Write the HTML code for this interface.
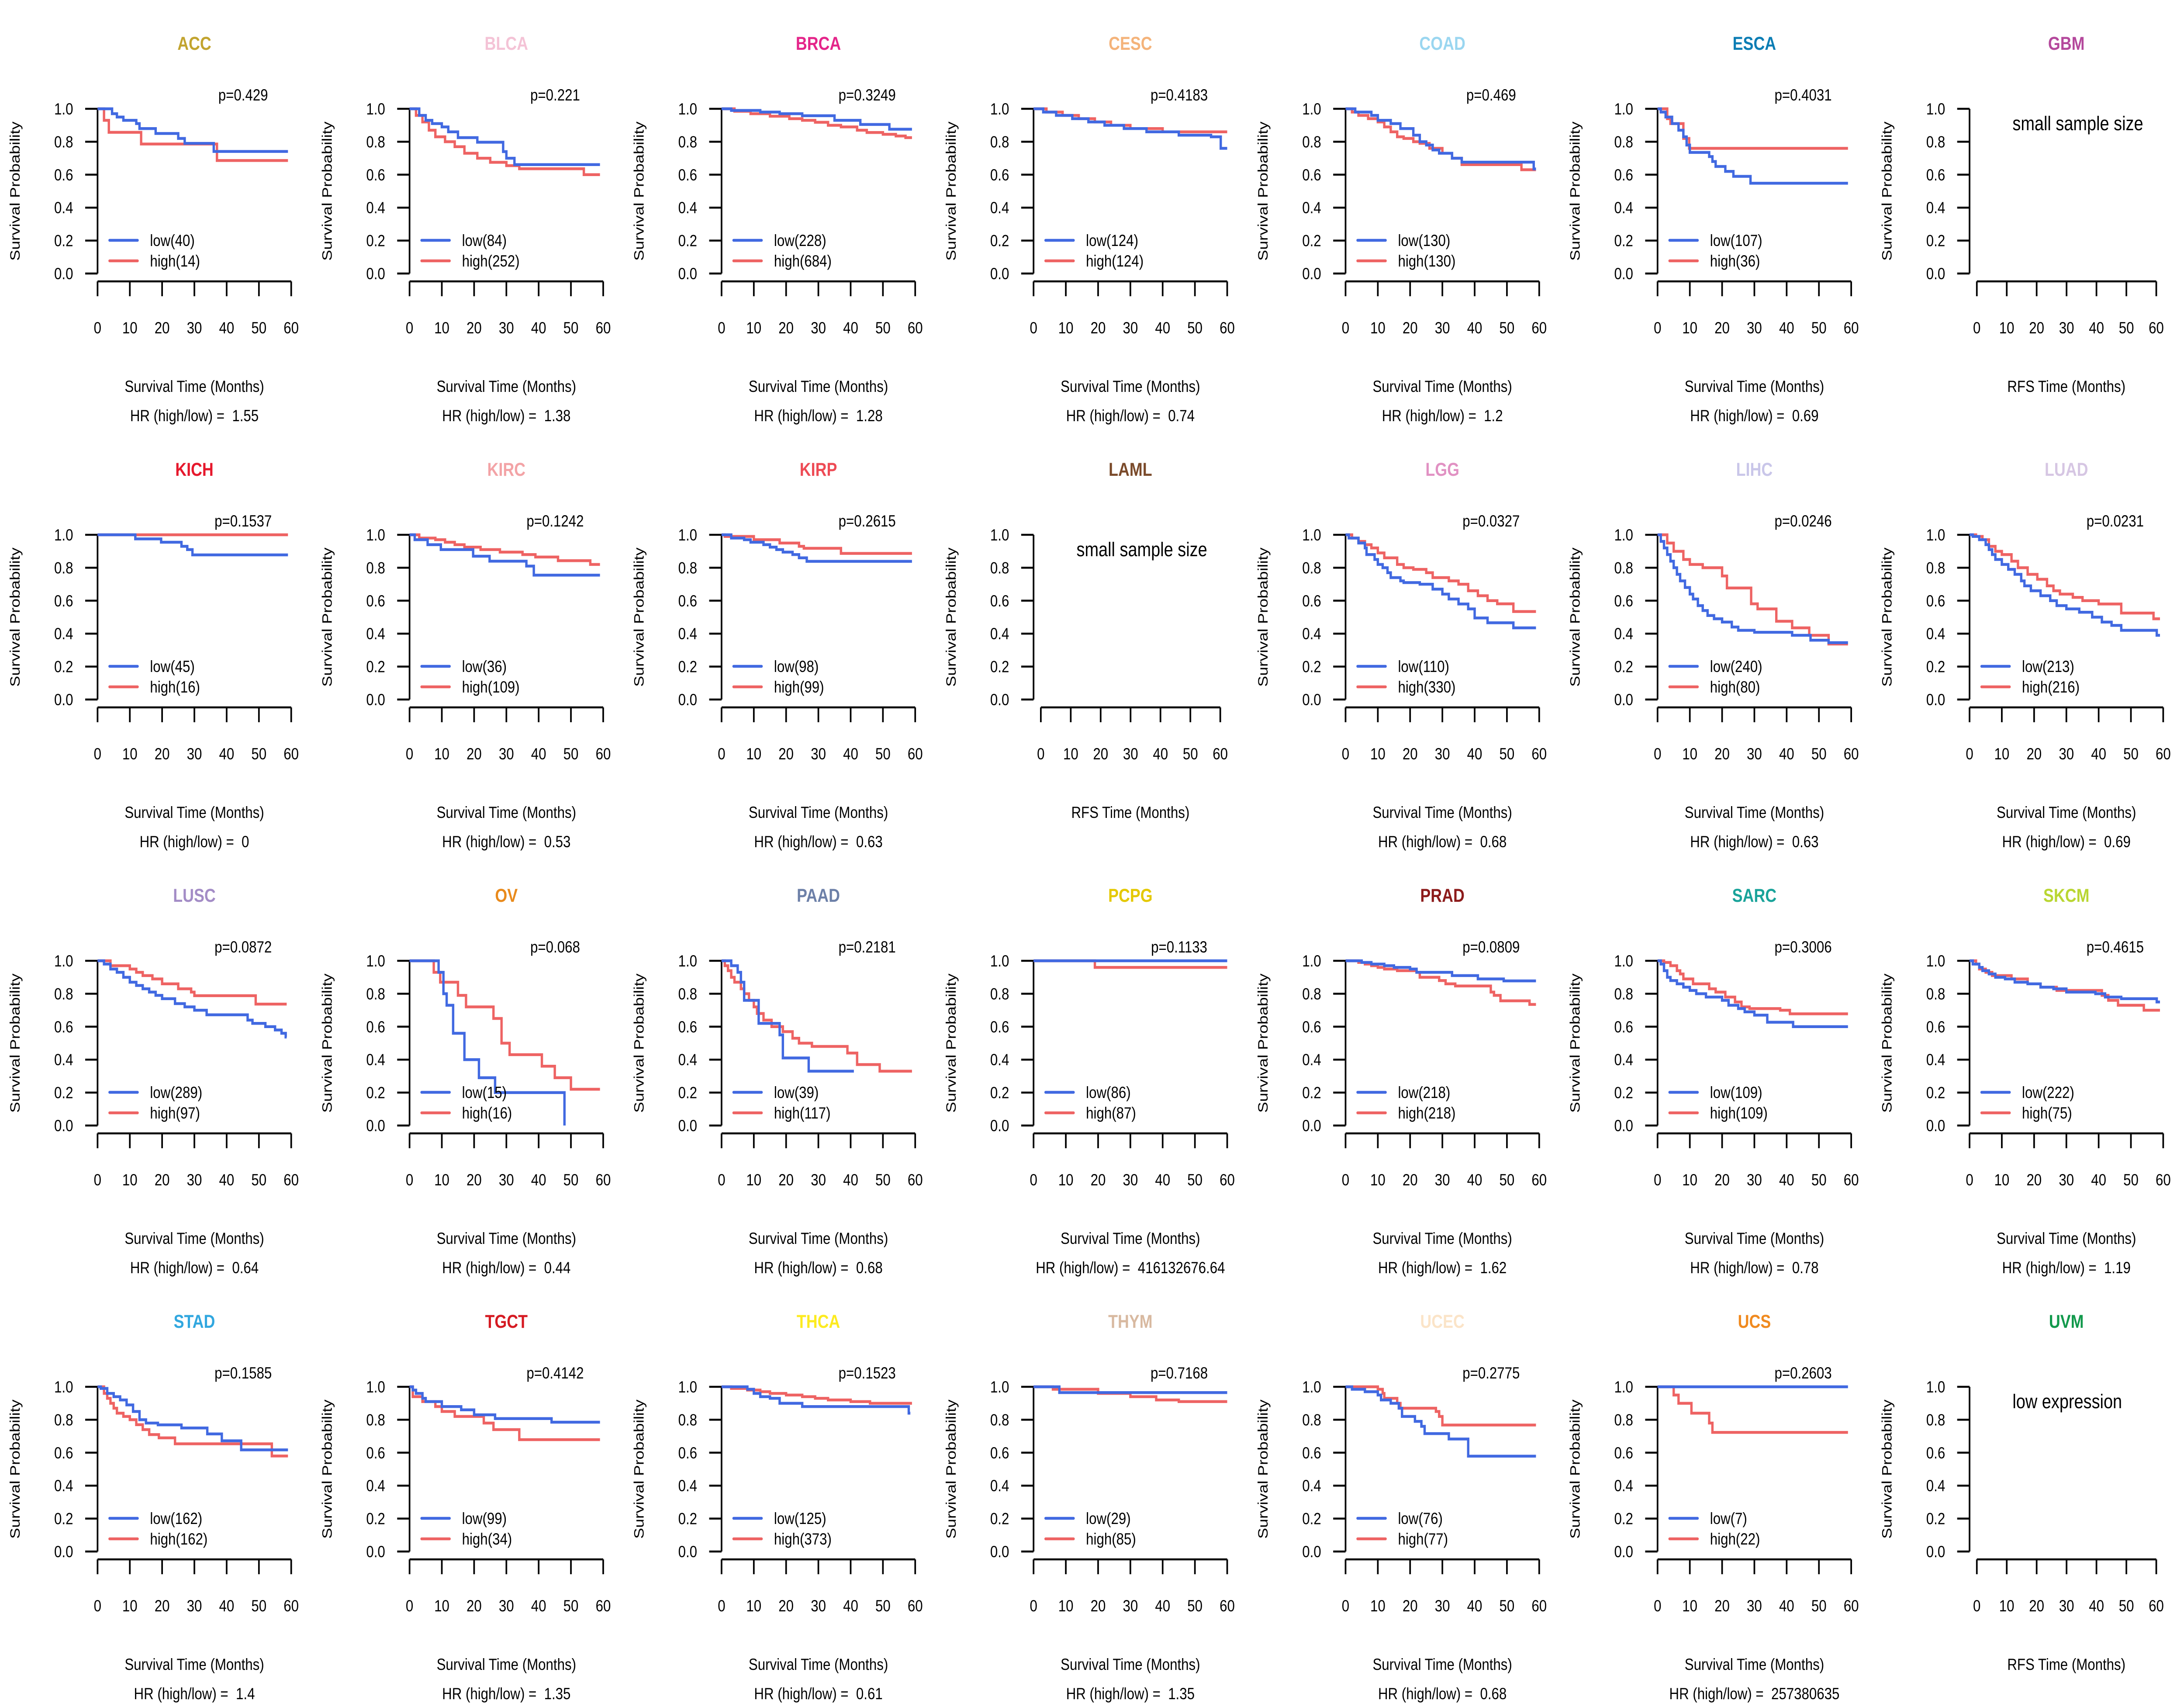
<!DOCTYPE html>
<html><head><meta charset="utf-8"><style>
html,body{margin:0;padding:0;background:#fff;width:100%;height:100%;overflow:hidden}
#chart{display:block;width:100vw;height:100vh}
svg text{font-family:"Liberation Sans",Arial,sans-serif;white-space:pre}
</style></head><body>
<svg id="chart" xmlns="http://www.w3.org/2000/svg" viewBox="0 0 6000 3900" preserveAspectRatio="none"></svg>
<script>
const cancers = ["ACC","BLCA","BRCA","CESC","COAD","ESCA","GBM","KICH","KIRC","KIRP","LAML","LGG","LIHC","LUAD","LUSC","OV","PAAD","PCPG","PRAD","SARC","SKCM","STAD","TGCT","THCA","THYM","UCEC","UCS","UVM"];
const titleColors = ["#C2A42F","#F4C3D6","#E4258A","#F4B37A","#9AD6F0","#0B7DB4","#B4489C","#E6182C","#F3A3A6","#EE4B55","#7A4A2A","#E191C3","#C9C6E9","#D6C6E3","#A38CC6","#E98A1B","#6D80A8","#E4C800","#8C1B1B","#19A39A","#B9D632","#31A7DF","#D51A22","#FDEB20","#D8B9A0","#FBE4C8","#F08A1F","#12994C"];
const emptyNote = {6:"small sample size",10:"small sample size",27:"low expression"};
const pValues = ["p=0.429","p=0.221","p=0.3249","p=0.4183","p=0.469","p=0.4031","","p=0.1537","p=0.1242","p=0.2615","","p=0.0327","p=0.0246","p=0.0231","p=0.0872","p=0.068","p=0.2181","p=0.1133","p=0.0809","p=0.3006","p=0.4615","p=0.1585","p=0.4142","p=0.1523","p=0.7168","p=0.2775","p=0.2603",""];
const hrValues = ["1.55","1.38","1.28","0.74","1.2","0.69","","0","0.53","0.63","","0.68","0.63","0.69","0.64","0.44","0.68","416132676.64","1.62","0.78","1.19","1.4","1.35","0.61","1.35","0.68","257380635",""];
const lowN = [40,84,228,124,130,107,0,45,36,98,0,110,240,213,289,15,39,86,218,109,222,162,99,125,29,76,7,0];
const highN = [14,252,684,124,130,36,0,16,109,99,0,330,80,216,97,16,117,87,218,109,75,162,34,373,85,77,22,0];
const endTimes = [59,59,59,60,59,59,0,59,59,59,0,59,59,59,58.6,59,59,60,59,59,59,59,59,59,60,59,59,0];
const lowEnd = [59,59,59,60,59,59,0,59,59,59,0,59,59,59,58.6,48,41,60,59,59,59,59,59,58.5,60,59,59,0];
const lowCurves = [
[[0,1],[4.5,0.97],[6,0.95],[8,0.93],[12,0.91],[13,0.88],[18,0.85],[25,0.82],[27,0.79],[36,0.741]],
[[0,1],[3,0.96],[5,0.93],[7,0.91],[10,0.89],[12,0.86],[15,0.825],[21,0.797],[29,0.74],[30,0.7],[32.5,0.661]],
[[0,1],[3,0.99],[12,0.98],[18,0.97],[25,0.958],[35,0.93],[43,0.905],[52,0.876]],
[[0,1],[3,0.98],[7,0.96],[12,0.94],[17,0.92],[22,0.9],[28,0.88],[35,0.86],[45,0.84],[55,0.83],[58,0.76]],
[[0,1],[3,0.98],[8,0.96],[10,0.93],[14,0.91],[17,0.88],[21,0.84],[23,0.8],[25,0.78],[27,0.75],[29,0.73],[33,0.7],[36,0.676],[58.3,0.635]],
[[0,1],[1,0.98],[2.5,0.95],[4.5,0.91],[6.5,0.87],[8,0.83],[9,0.78],[10,0.735],[16,0.71],[17,0.68],[18,0.65],[21,0.62],[23.5,0.59],[28.8,0.548]],
[],
[[0,1],[11.7,0.975],[19.7,0.955],[26,0.93],[27.8,0.91],[29.4,0.878]],
[[0,1],[1.6,0.97],[5.6,0.94],[9.7,0.91],[19.7,0.87],[24.8,0.84],[36.2,0.81],[38.5,0.755]],
[[0,1],[3,0.98],[7,0.97],[9,0.955],[13,0.94],[15,0.925],[17,0.91],[19,0.895],[22,0.88],[24,0.86],[26.4,0.839]],
[],
[[0,1],[1,0.98],[4,0.95],[6,0.92],[6.5,0.88],[9,0.85],[10,0.82],[11.5,0.8],[13,0.77],[14,0.74],[17,0.72],[18,0.71],[23,0.7],[27,0.67],[30,0.64],[32,0.61],[35,0.58],[38,0.55],[40,0.495],[44,0.466],[52,0.435]],
[[0,1],[1,0.96],[2,0.92],[3,0.88],[4,0.84],[5,0.8],[6,0.76],[7,0.72],[8.5,0.68],[10,0.64],[11,0.61],[12.5,0.57],[14,0.54],[15.5,0.51],[17.5,0.49],[20,0.47],[23,0.44],[25,0.42],[30,0.408],[41.7,0.39],[47.4,0.36],[53,0.345]],
[[0,1],[1,0.99],[3,0.97],[5,0.94],[6,0.91],[7,0.88],[8,0.85],[10,0.82],[12,0.79],[14,0.76],[16,0.72],[17,0.69],[19,0.66],[22,0.63],[25,0.6],[27,0.57],[30,0.55],[34,0.53],[38,0.5],[41,0.47],[44,0.45],[47,0.42],[58,0.39]],
[[0,1],[2,0.98],[4,0.95],[6,0.93],[8,0.9],[10,0.87],[12,0.85],[14,0.83],[16,0.81],[18,0.79],[20,0.77],[24,0.74],[27,0.72],[30,0.7],[33.8,0.672],[46.5,0.64],[48,0.62],[52,0.6],[55,0.58],[57,0.56],[58.3,0.537]],
[[0,1],[9,0.93],[10.5,0.8],[11.5,0.73],[13.5,0.56],[17,0.4],[21.5,0.29],[26.5,0.2],[48,0]],
[[0,1],[3,0.97],[5,0.93],[6,0.87],[7,0.76],[11.5,0.62],[18,0.55],[19,0.41],[27,0.33]],
[[0,1]],
[[0,1],[5,0.99],[8,0.98],[12,0.97],[15,0.96],[20,0.95],[22,0.93],[33,0.91],[41,0.89],[49,0.878]],
[[0,1],[1,0.98],[2,0.94],[3,0.9],[4,0.88],[6,0.86],[8,0.84],[10,0.82],[12,0.8],[15,0.78],[20,0.76],[22,0.73],[25,0.71],[27,0.69],[30,0.67],[34,0.627],[42,0.6]],
[[0,1],[1,0.98],[3,0.96],[4,0.94],[6,0.92],[8,0.9],[11,0.89],[14,0.87],[18,0.86],[22,0.84],[26,0.83],[30,0.81],[39,0.8],[42,0.78],[47,0.77],[58,0.75]],
[[0,1],[1,0.99],[3,0.96],[5,0.94],[7,0.92],[9,0.89],[11,0.85],[13,0.8],[15,0.78],[18.7,0.769],[26,0.75],[34,0.714],[38.5,0.672],[44.5,0.617]],
[[0,1],[1,0.98],[2,0.96],[4,0.93],[5,0.91],[10,0.88],[16,0.86],[20,0.83],[26.5,0.807],[44,0.785]],
[[0,1],[8,0.985],[10,0.96],[12,0.94],[15,0.93],[18,0.9],[25,0.88],[58,0.84]],
[[0,1],[8,0.965]],
[[0,1],[2,0.985],[6,0.97],[10,0.95],[11,0.92],[14,0.9],[16.5,0.87],[17.5,0.82],[21.5,0.79],[23.5,0.76],[24.5,0.716],[32,0.683],[38,0.579]],
[[0,1]],
[]
];
const highCurves = [
[[0,1],[2,0.93],[3.5,0.857],[13.5,0.786],[37,0.686]],
[[0,1],[2,0.96],[4,0.92],[6,0.87],[8,0.83],[11,0.8],[14,0.77],[17,0.73],[21,0.7],[25,0.675],[30,0.655],[34,0.636],[54,0.6]],
[[0,1],[4,0.985],[9,0.97],[15,0.955],[21,0.94],[25,0.93],[29,0.918],[33,0.9],[37,0.89],[42,0.87],[45,0.856],[50,0.845],[54,0.835],[57,0.825]],
[[0,1],[4,0.98],[9,0.96],[14,0.94],[19,0.92],[24,0.9],[30,0.88],[40,0.86]],
[[0,1],[2,0.98],[4,0.96],[7,0.94],[10,0.92],[12,0.89],[14,0.86],[16,0.83],[18,0.82],[21,0.8],[23,0.79],[26,0.76],[30,0.73],[33,0.7],[36,0.661],[54.5,0.63]],
[[0,1],[3,0.94],[4,0.91],[8,0.82],[9.8,0.76]],
[],
[[0,1]],
[[0,1],[3,0.98],[8,0.97],[11,0.955],[14,0.94],[17,0.925],[22,0.91],[28,0.895],[35,0.88],[39,0.865],[46,0.843],[56,0.82]],
[[0,1],[1,0.99],[10,0.97],[18,0.95],[24,0.93],[25.5,0.918],[37,0.887]],
[],
[[0,1],[2,0.98],[4,0.96],[6,0.94],[8,0.92],[10,0.89],[12,0.86],[16,0.82],[18,0.8],[21,0.79],[25,0.77],[27,0.74],[32,0.72],[35,0.7],[38,0.66],[41,0.63],[44,0.6],[47,0.581],[52,0.534]],
[[0,1],[3,0.95],[5,0.9],[8,0.85],[10,0.82],[14,0.8],[20,0.75],[21.5,0.677],[29,0.581],[31,0.55],[36.8,0.475],[41.7,0.435],[47,0.39],[53,0.337]],
[[0,1],[2,0.99],[4,0.97],[6,0.93],[8,0.9],[10,0.88],[13,0.84],[15,0.8],[18,0.76],[21,0.73],[24,0.69],[26,0.66],[28,0.64],[32,0.62],[35,0.6],[40,0.58],[47,0.525],[57,0.49]],
[[0,1],[4,0.97],[10,0.95],[12,0.93],[14,0.91],[17,0.89],[20,0.86],[25,0.83],[29,0.81],[30,0.788],[49,0.737]],
[[0,1],[7.5,0.93],[9.5,0.87],[15,0.79],[17.5,0.72],[26,0.65],[28.5,0.5],[31,0.43],[41,0.36],[45,0.29],[50,0.22]],
[[0,1],[1,0.97],[2,0.94],[3,0.9],[4,0.87],[6,0.83],[7,0.8],[8.5,0.76],[10,0.72],[11,0.68],[13,0.64],[15.5,0.6],[19,0.57],[22,0.53],[24,0.5],[28,0.48],[39,0.44],[42,0.37],[49,0.33]],
[[0,1],[19,0.96]],
[[0,1],[4,0.99],[6,0.98],[8,0.97],[10,0.96],[12,0.95],[16,0.94],[22,0.93],[23,0.9],[29,0.88],[31,0.86],[34,0.847],[45,0.81],[46,0.79],[48,0.757],[57,0.735]],
[[0,1],[2,0.99],[4,0.97],[6,0.94],[7,0.92],[8,0.89],[11,0.86],[16,0.83],[18,0.81],[21,0.78],[24,0.75],[26,0.72],[28.5,0.71],[38,0.7],[41,0.678]],
[[0,1],[2,0.98],[3,0.95],[5,0.93],[7,0.91],[13,0.89],[18,0.86],[22,0.84],[27,0.82],[41,0.79],[43,0.76],[46,0.73],[54,0.7]],
[[0,1],[2,0.96],[3,0.93],[4,0.9],[5,0.87],[6,0.84],[8,0.82],[10,0.8],[12,0.77],[14,0.74],[16,0.71],[19,0.69],[24,0.654],[54,0.58]],
[[0,1],[1,0.94],[4,0.91],[8,0.88],[10,0.85],[14,0.82],[23,0.78],[26,0.74],[34,0.679]],
[[0,1],[3,0.99],[8,0.98],[12,0.97],[15,0.96],[20,0.95],[25,0.94],[29,0.93],[33,0.92],[40,0.91],[46,0.9]],
[[0,1],[6,0.985],[20,0.96],[30,0.94],[38,0.92],[45,0.91]],
[[0,1],[10,0.985],[11.5,0.96],[12,0.93],[16,0.9],[17,0.87],[28,0.85],[29,0.82],[30,0.768]],
[[0,1],[5,0.95],[6.5,0.9],[10.5,0.84],[16,0.78],[17,0.723]],
[]
];
const yTicks = [0,0.2,0.4,0.6,0.8,1.0];
const xTicks = [0,10,20,30,40,50,60];

const NS = "http://www.w3.org/2000/svg";
const svg = document.getElementById('chart');
const colW = 6000/7, rowH = 975;
function mk(tag, attrs, parent){
  const e = document.createElementNS(NS, tag);
  for (const k in attrs) e.setAttribute(k, attrs[k]);
  parent.appendChild(e); return e;
}
function txt(parent, x, y, s, size, anchor, extra){
  const t = mk('text', Object.assign({x:x, y:y, 'font-size':size, 'text-anchor':anchor||'middle', fill:'#000'}, extra||{}), parent);
  t.textContent = s; return t;
}
cancers.forEach((name, i) => {
  const col = i % 7, row = Math.floor(i / 7);
  const g = mk('g', {transform:`translate(${col*colW},${row*rowH})`}, svg);
  
  
  const empty = lowCurves[i].length === 0;
  const X0 = empty ? 288 : 268, X1 = empty ? 781 : 800;
  const yTop = 249, yBot = 626;
  const sx = t => X0 + (X1 - X0) * t / 60;
  const sy = v => yBot - (yBot - yTop) * v;
  const cx = 534;
  const tt = txt(g, cx, 114, name, 43, 'middle', {'font-weight':'bold', fill:titleColors[i]});
  
  
  const ya = mk('g', {}, g);
  
  
  mk('line', {x1:268, y1:sy(0), x2:268, y2:sy(1), stroke:'#000', 'stroke-width':4.5}, ya);
  yTicks.forEach(v => {
    mk('line', {x1:234, y1:sy(v), x2:268, y2:sy(v), stroke:'#000', 'stroke-width':4.5}, ya);
    txt(ya, 201, sy(v) + 13, v.toFixed(1), 37.5, 'end');
  });
  const yl = txt(g, 0, 0, 'Survival Probability', 37.5, 'middle', {transform:`translate(54,${(yTop+yBot)/2}) rotate(-90)`});
  
  
  const xa = mk('g', {}, g);
  
  
  mk('line', {x1:sx(0), y1:644, x2:sx(60), y2:644, stroke:'#000', 'stroke-width':4.5}, xa);
  xTicks.forEach(v => {
    mk('line', {x1:sx(v), y1:644, x2:sx(v), y2:678, stroke:'#000', 'stroke-width':4.5}, xa);
    txt(xa, sx(v), 763, String(v), 37.5, 'middle');
  });
  const xl = txt(g, cx, 897, empty ? 'RFS Time (Months)' : 'Survival Time (Months)', 37.5, 'middle');
  
  
  if (empty) {
    const n = txt(g, 386, 298, emptyNote[i], 45.5, 'start');
    
    
    return;
  }
  const hr = txt(g, cx, 964, 'HR (high/low) =  ' + hrValues[i], 37.5, 'middle');
  
  
  const pv = txt(g, 668, 230, pValues[i], 37.5, 'middle');
  
  
  function curve(pts, end, color, nm){
    let d = `M${sx(pts[0][0])},${sy(pts[0][1])}`;
    for (let k = 1; k < pts.length; k++) d += `H${sx(pts[k][0])}V${sy(pts[k][1])}`;
    d += `H${sx(end)}`;
    const p = mk('path', {d:d, fill:'none', stroke:color, 'stroke-width':6.5, 'stroke-linejoin':'miter'}, g);
    
    
  }
  curve(highCurves[i], endTimes[i], '#EE6363', 'curve-high');
  curve(lowCurves[i], lowEnd[i], '#4169E1', 'curve-low');
  const lg = mk('g', {}, g);
  
  
  mk('line', {x1:301, y1:550, x2:378, y2:550, stroke:'#4169E1', 'stroke-width':6.5, 'stroke-linecap':'round'}, lg);
  mk('line', {x1:301, y1:597, x2:378, y2:597, stroke:'#EE6363', 'stroke-width':6.5, 'stroke-linecap':'round'}, lg);
  txt(lg, 412, 563, `low(${lowN[i]})`, 37.5, 'start');
  txt(lg, 412, 610, `high(${highN[i]})`, 37.5, 'start');
});
</script>
</body></html>
